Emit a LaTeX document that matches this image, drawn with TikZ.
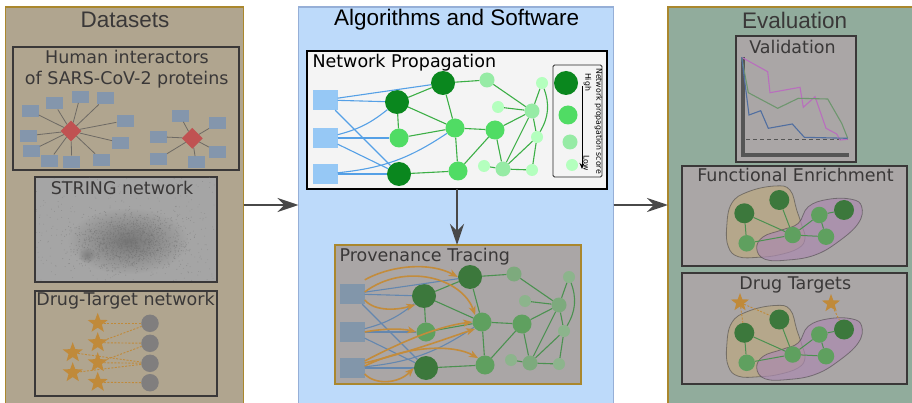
\documentclass[tikz,border=0pt]{standalone}
\usepackage{fontspec}
\setmainfont{DejaVu Sans}
\newfontfamily\headfont{Liberation Sans}
\usetikzlibrary{arrows.meta,shapes.geometric,fadings}

\definecolor{dsbg}{RGB}{176,165,143}
\definecolor{algbg}{RGB}{189,218,250}
\definecolor{algline}{RGB}{150,175,215}
\definecolor{evbg}{RGB}{145,172,156}
\definecolor{goldline}{RGB}{170,135,45}
\definecolor{boxline}{RGB}{58,56,56}
\definecolor{textgray}{RGB}{58,56,56}
\definecolor{greybox}{RGB}{170,166,166}
\definecolor{stringbg}{RGB}{165,165,165}
\definecolor{cloud}{RGB}{112,112,112}
\definecolor{protblue}{RGB}{132,150,172}
\definecolor{hubred}{RGB}{192,82,82}
\definecolor{hubline}{RGB}{110,106,100}
\definecolor{staror}{RGB}{192,138,58}
\definecolor{targetgray}{RGB}{128,126,126}
\definecolor{arrowgray}{RGB}{72,72,72}
\definecolor{npbg}{RGB}{244,244,244}
\definecolor{npdark}{RGB}{10,135,30}
\definecolor{npmed}{RGB}{80,220,100}
\definecolor{nplight}{RGB}{150,235,165}
\definecolor{npxl}{RGB}{180,255,190}
\definecolor{npsq}{RGB}{150,200,245}
\definecolor{npblue}{RGB}{85,160,230}
\definecolor{npgreen}{RGB}{60,175,70}
\definecolor{ptdark}{RGB}{60,120,60}
\definecolor{ptmed}{RGB}{95,160,95}
\definecolor{ptlight}{RGB}{125,170,125}
\definecolor{ptxl}{RGB}{140,180,140}
\definecolor{ptsq}{RGB}{130,150,170}
\definecolor{ptblue}{RGB}{100,135,175}
\definecolor{ptgreen}{RGB}{75,145,80}
\definecolor{traceor}{RGB}{195,140,60}
\definecolor{blobtan}{RGB}{185,168,130}
\definecolor{blobpurple}{RGB}{170,138,175}
\definecolor{plotmag}{RGB}{185,110,190}
\definecolor{plotgreen}{RGB}{110,150,110}
\definecolor{plotblue}{RGB}{80,110,160}
\definecolor{axisgray}{RGB}{85,85,85}

\tikzfading[name=cloudfade, inner color=transparent!0, outer color=transparent!100]

% signalling network shared by the propagation and tracing boxes
\newcommand{\signalnet}[1]{%
  \node[sq] (#1s1) at (325,100) {};
  \node[sq] (#1s2) at (325,138) {};
  \node[sq] (#1s3) at (325,174) {};
  \node[dk] (#1a) at (397,102) {};
  \node[dk] (#1b) at (443,83) {};
  \node[dk] (#1c) at (399,174) {};
  \node[md] (#1d) at (399,138) {};
  \node[md] (#1e) at (455,128) {};
  \node[md] (#1f) at (458,171) {};
  \node[md] (#1g) at (495,130) {};
  \node[lt] (#1h) at (487,80) {};
  \node[lt] (#1i) at (532,111) {};
  \node[lt] (#1j) at (503,169) {};
  \node[xl] (#1k) at (498,107) {};
  \node[xl] (#1l) at (542,83) {};
  \node[xl] (#1m) at (537,137) {};
  \node[xl] (#1n) at (484,166) {};
  \node[xl] (#1o) at (532,170) {};
  \foreach \u/\v in {a/b,a/d,a/e,b/e,b/h,d/e,c/f,e/f,e/g,f/g,g/i,g/j,h/i,k/i,i/l,i/m,i/j,m/j,m/o,n/j,j/o}
    \draw[gedge] (#1\u) -- (#1\v);
  \draw[gedge] (#1l) to[bend left=25] (#1m);
  \foreach \u/\v in {s1/b,s1/a,s1/c,s2/d,s2/c,s3/c}
    \draw[bedge] (#1\u) -- (#1\v);
  \draw[bedge] (#1s2) to[bend right=12] (#1a);
  \draw[bedge] (#1s3) to[bend right=14] (#1e);
}

% two overlapping gene clusters
\newcommand{\clusters}[1]{%
  \fill[blobtan, fill opacity=0.75, draw=boxline, draw opacity=0.5, line width=0.8pt]
    plot[smooth cycle, tension=0.7] coordinates {(726.7,226.7) (731.7,203.3) (748.3,191.7) (775,186) (790,190) (796.7,210) (801.7,225) (805,238.3) (798.3,248.3) (778.3,255) (758.3,257.3) (738.3,256.7) (728.3,246.7)};
  \fill[blobpurple, fill opacity=0.7, draw=boxline, draw opacity=0.5, line width=0.8pt]
    plot[smooth cycle, tension=0.7] coordinates {(756.7,248.3) (763.3,236.7) (781.7,230) (798.3,223.3) (808.3,206.7) (828.3,199.3) (851.7,199.3) (861.7,206.7) (858.3,223.3) (838.3,241.7) (815,255) (788.3,260) (765,259.3)};
  \node[cdark] (#1n1) at (744.3,213.3) {};
  \node[cdark] (#1n2) at (779.3,200) {};
  \node[cdark] (#1n3) at (844,210) {};
  \node[cmed] (#1n4) at (746.7,243.3) {};
  \node[cmed] (#1n5) at (792.7,235) {};
  \node[cmed] (#1n6) at (819.3,215) {};
  \node[cmed] (#1n7) at (826,236.7) {};
  \foreach \u/\v in {1/4,1/5,2/5,4/5,5/6,5/7,6/3,6/7}
    \draw[cedge] (#1n\u) -- (#1n\v);
}

\begin{document}
\begin{tikzpicture}[x=1pt, y=-1pt,
  panel/.style={draw, line width=1.2pt, inner sep=0pt, outer sep=0pt},
  subbox/.style={draw=boxline, line width=1.4pt, inner sep=0pt, outer sep=0pt},
  headtitle/.style={font=\headfont\fontsize{22.5}{27}\selectfont, anchor=base, inner sep=0pt},
  boxtitle/.style={font=\fontsize{17.5}{21}\selectfont, anchor=base, inner sep=0pt, text=textgray},
  prot/.style={fill=protblue, minimum width=17pt, minimum height=12pt, inner sep=0pt},
  hub/.style={diamond, fill=hubred, minimum size=21pt, inner sep=0pt},
  hubedge/.style={draw=hubline, line width=0.8pt},
  drug/.style={star, star points=5, star point ratio=2.4, fill=staror, minimum size=21pt, inner sep=0pt},
  target/.style={circle, fill=targetgray, minimum size=17.5pt, inner sep=0pt},
  dtedge/.style={draw=staror, line width=0.9pt, dash pattern=on 2pt off 1.5pt},
  bigarrow/.style={draw=arrowgray, fill=arrowgray, line width=2.8pt, -{Stealth[length=21pt, width=14pt, inset=7pt]}},
  trace/.style={draw=traceor, line width=1.6pt, -{Stealth[length=9pt, width=7pt, inset=2.5pt]}},
  cdark/.style={circle, fill=ptdark, minimum size=20pt, inner sep=0pt},
  cmed/.style={circle, fill=ptmed, minimum size=16.5pt, inner sep=0pt},
  cedge/.style={draw=ptgreen, line width=1pt},
]
\useasboundingbox (0,0) rectangle (912,403);
\fill[white] (0,0) rectangle (912,403);

% ---------------- panels ----------------
\node[panel, draw=goldline, fill=dsbg, minimum width=238pt, minimum height=403pt] (lp) at (124.5,208.5) {};
\node[panel, draw=algline, fill=algbg, minimum width=315pt, minimum height=403pt] (mp) at (456,208.5) {};
\node[panel, draw=goldline, fill=evbg, minimum width=257pt, minimum height=403pt] (rp) at (796.5,208.5) {};

\node[headtitle, text=textgray] (tds) at (125,28) {Datasets};
\node[headtitle, text=black] (tal) at (456.7,26) {Algorithms and Software};
\node[headtitle, text=textgray] (tev) at (794.7,28.3) {Evaluation};

% ---------------- datasets ----------------
\node[subbox, fill=dsbg, minimum width=226pt, minimum height=123pt] (hbox) at (126,108.5) {};
\node[boxtitle] (ht1) at (127,64) {Human interactors};
\node[boxtitle] (ht2) at (126.7,85) {of SARS-CoV-2 proteins};

\node[hub] (h1) at (71,131) {};
\node[hub] (h2) at (192.3,138.3) {};
\foreach \i/\x/\y in {1/30/110.7, 2/54/103.3, 3/80/96.7, 4/105.3/98.3, 5/125/120.7, 6/120.7/142.7, 7/101.7/160, 8/71.7/161.7, 9/49.3/160.7, 10/31/150.7, 11/28.3/135.7}{
  \node[prot] (pa\i) at (\x,\y) {};
  \draw[hubedge] (h1) -- (pa\i);
}
\foreach \i/\x/\y in {1/180/115.7, 2/217.7/123.3, 3/158.3/136.7, 4/217.7/151.7, 5/158.3/159, 6/196/162.3}{
  \node[prot] (pb\i) at (\x,\y) {};
  \draw[hubedge] (h2) -- (pb\i);
}

\node[subbox, fill=stringbg, minimum width=182pt, minimum height=105pt] (sbox) at (126,229.5) {};
\begin{scope}
  \clip (36,178) rectangle (216,281);
  \fill[cloud, fill opacity=0.85, path fading=cloudfade] (128,241) ellipse [x radius=60, y radius=33];
  \fill[cloud, fill opacity=0.65, path fading=cloudfade] (87,255) ellipse [x radius=9, y radius=8];
  \pgfmathsetseed{11}
  \foreach \i in {1,...,1400}{
    \pgfmathsetmacro{\dx}{26*(rand+rand+rand)}
    \pgfmathsetmacro{\dy}{13*(rand+rand+rand)}
    \fill[cloud, opacity=0.5] (128+\dx,242+\dy) circle (0.5);
  }
  \foreach \i in {1,...,350}{
    \pgfmathsetmacro{\dx}{90*rand}
    \pgfmathsetmacro{\dy}{52*rand}
    \fill[cloud, opacity=0.4] (126+\dx,229+\dy) circle (0.45);
  }
\end{scope}
\node[boxtitle] (st) at (122,195) {STRING network};

\node[subbox, fill=dsbg, minimum width=182pt, minimum height=105pt] (dbox) at (126,343.5) {};
\node[boxtitle] (dt) at (125.5,305.7) {Drug-Target network};
\node[target] (c1) at (150,323.3) {};
\node[target] (c2) at (150,343.3) {};
\node[target] (c3) at (150,363.3) {};
\node[target] (c4) at (150,382.7) {};
\node[drug] (d1) at (97.7,323.3) {};
\node[drug] (d2) at (97.7,342.7) {};
\node[drug] (d3) at (72.7,352.7) {};
\node[drug] (d4) at (97.7,362.7) {};
\node[drug] (d5) at (72.7,372.7) {};
\node[drug] (d6) at (97.7,382.3) {};
\foreach \u/\v in {d1/c1,d2/c1,d2/c2,d4/c2,d4/c3,d3/c3,d5/c3,d6/c4}
  \draw[dtedge] (\u) -- (\v);

% ---------------- algorithms ----------------
\node[panel, draw=black, line width=1.5pt, fill=npbg, minimum width=300pt, minimum height=138pt] (np) at (457,120) {};
\node[font=\fontsize{17.5}{21}\selectfont, anchor=base west, inner sep=0pt] (npt) at (312.3,67.7) {Network Propagation};
\begin{scope}[
  sq/.style={fill=npsq, minimum width=25pt, minimum height=20pt, inner sep=0pt},
  dk/.style={circle, fill=npdark, minimum size=24pt, inner sep=0pt},
  md/.style={circle, fill=npmed, minimum size=19pt, inner sep=0pt},
  lt/.style={circle, fill=nplight, minimum size=15pt, inner sep=0pt},
  xl/.style={circle, fill=npxl, minimum size=12pt, inner sep=0pt},
  gedge/.style={draw=npgreen, line width=1.1pt},
  bedge/.style={draw=npblue, line width=1.1pt}]
  \signalnet{np}
  % score legend
  \node[draw=black!85, line width=0.9pt, rounded corners=1.5pt, fill=npbg, minimum width=49pt, minimum height=112pt, inner sep=0pt] (lg) at (577.5,121) {};
  \node[dk] (lg1) at (566,83) {};
  \node[md] (lg2) at (568,115) {};
  \node[lt] (lg3) at (570,142) {};
  \node[xl] (lg4) at (572,165) {};
  \coordinate (lgtop) at (582,86);
  \coordinate (lgbot) at (582,169);
  \draw[line width=0.9pt, -{Stealth[length=6pt, width=5pt]}] (lgtop) -- (lgbot);
  \node[rotate=-90, font=\fontsize{7.8}{9}\selectfont, inner sep=0pt] (lgh) at (587.5,82) {High};
  \node[rotate=-90, font=\fontsize{7.8}{9}\selectfont, inner sep=0pt] (lgl) at (586.5,163) {Low};
  \node[rotate=-90, font=\fontsize{7.8}{9}\selectfont, inner sep=0pt] (lgs) at (598.5,121) {Network propagation score};
\end{scope}

\node[panel, draw=goldline, line width=1.8pt, fill=greybox, minimum width=246pt, minimum height=139pt] (pt) at (458,314.5) {};
\node[font=\fontsize{17.5}{21}\selectfont, anchor=base west, inner sep=0pt, text=textgray] (ptt) at (339.3,261.7) {Provenance Tracing};
\begin{scope}[shift={(27,194)},
  sq/.style={fill=ptsq, minimum width=25pt, minimum height=20pt, inner sep=0pt},
  dk/.style={circle, fill=ptdark, minimum size=24pt, inner sep=0pt},
  md/.style={circle, fill=ptmed, minimum size=19pt, inner sep=0pt},
  lt/.style={circle, fill=ptlight, minimum size=15pt, inner sep=0pt},
  xl/.style={circle, fill=ptxl, minimum size=12pt, inner sep=0pt},
  gedge/.style={draw=ptgreen, line width=1.1pt},
  bedge/.style={draw=ptblue, line width=1.1pt}]
  \signalnet{pt}
\end{scope}
% traced contributions from the seed proteins
\draw[trace] ([yshift=4pt]pts1.north east) .. controls (392,265) and (430,262) .. (ptb.west);
\draw[trace] ([yshift=2pt]pts1.east) .. controls (405,262) and (462,278) .. (pte.north west);
\draw[trace] ([yshift=-6pt]pts1.east) .. controls (375,312) and (398,310) .. (pta.south west);
\draw[trace] (pts2.east) .. controls (380,329) and (400,328) .. (ptd.west);
\draw[trace] ([yshift=5pt]pts3.east) .. controls (410,352) and (448,338) .. (pte.south west);
\draw[trace] ([yshift=7pt]pts3.east) .. controls (405,340) and (440,326) .. (pte.west);
\draw[trace] ([yshift=2pt]pts3.east) .. controls (410,344) and (455,345) .. (ptf.north west);
\draw[trace] ([yshift=-6pt]pts3.east) .. controls (375,385) and (398,384) .. (ptc.west);

% ---------------- evaluation ----------------
\node[subbox, fill=greybox, minimum width=120pt, minimum height=126pt] (vbox) at (796,99) {};
\node[boxtitle] (vt) at (792.5,54) {Validation};
\draw[axisgray, line width=4pt] (742.5,57) -- (742.5,155.5) -- (849,155.5);
\draw[axisgray, line width=1pt, dash pattern=on 4pt off 3pt] (746,139.3) -- (848,139.3);
\draw[plotmag, line width=1.1pt] (741.7,57.3) -- (767.7,71.7) -- (770,92.7) -- (800,87.3) -- (803.3,107.3) -- (815,96.7) -- (826,128.3) -- (836.7,134) -- (840,140) -- (847.7,139.3);
\draw[plotgreen, line width=1.1pt] (741.7,57.3) -- (748.3,92.7) -- (777.7,108.3) -- (798.3,98.3) -- (827.7,99) -- (841.7,123.3) -- (847.7,138.3);
\draw[plotblue, line width=1.1pt] (741.7,57.3) -- (749,115) -- (760.7,110.7) -- (768.3,128.3) -- (792.3,124) -- (804.3,137.3) -- (847.7,138.3);

\node[subbox, fill=greybox, minimum width=225pt, minimum height=100pt] (fbox) at (794.5,216) {};
\node[boxtitle] (ft) at (795.5,181.7) {Functional Enrichment};
\clusters{fe}

\node[subbox, fill=greybox, minimum width=225pt, minimum height=111pt] (tbox) at (794.5,328.5) {};
\node[boxtitle] (tt) at (795.3,289) {Drug Targets};
\begin{scope}[shift={(0,119.5)}]
  \clusters{dg}
\end{scope}
\node[drug, minimum size=19pt] (ds1) at (740,302.5) {};
\node[drug, minimum size=19pt] (ds2) at (831,303.5) {};
\draw[dtedge] (ds1) -- (dgn1);
\draw[dtedge] (ds1) -- (dgn2);
\draw[dtedge] (ds2) -- (dgn3);

% ---------------- flow arrows ----------------
\coordinate (rowy) at (0,205);
\draw[bigarrow] (lp.east |- rowy) -- (mp.west |- rowy);
\draw[bigarrow] (mp.east |- rowy) -- (rp.west |- rowy);
\draw[bigarrow] (np.south) -- (np.south |- pt.north);
\end{tikzpicture}
\end{document}
